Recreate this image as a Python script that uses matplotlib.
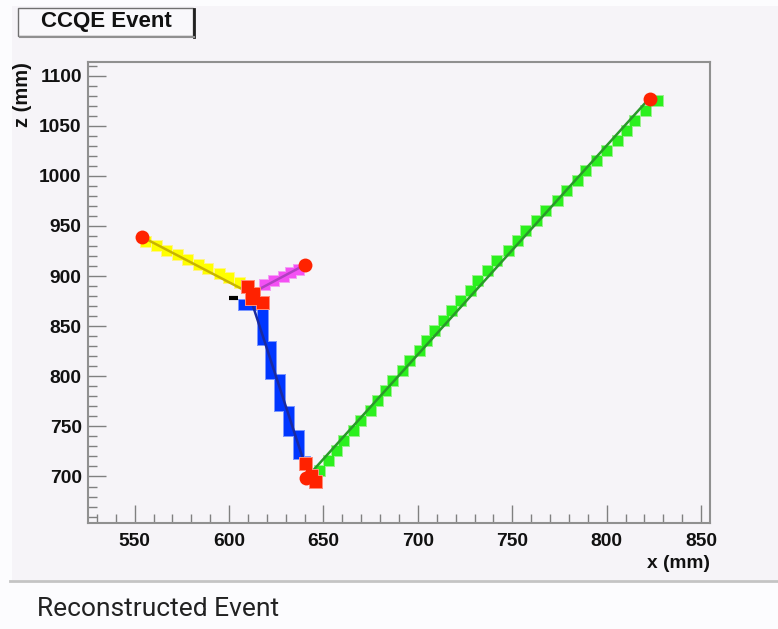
"""
CCQE event display: reconstructed tracks in the x-z view
"""

import matplotlib
matplotlib.use("Agg")
import matplotlib.pyplot as plt
from matplotlib.patches import Rectangle
from matplotlib.lines import Line2D
from matplotlib.ticker import MultipleLocator

# hits (mm)
green_x = [648, 653, 657, 661, 666, 670, 675, 679, 683, 687, 692, 696, 701, 705,
           709, 714, 718, 723, 728, 732, 737, 742, 748, 753, 757, 763, 768, 774,
           779, 785, 789, 795, 800, 806, 811, 815, 821, 827]
green_z = [705, 715, 725, 735, 745, 755, 765, 775, 785, 795, 805, 815, 825, 835,
           845, 855, 865, 875, 885, 895, 905, 915, 925, 935, 945, 955, 965, 975,
           985, 995, 1005, 1015, 1025, 1035, 1045, 1055, 1065, 1075]

yellow_x = [556, 562, 567, 573, 578, 584, 589, 595, 600, 606]
yellow_z = [934, 930, 925, 921, 916, 911, 907, 902, 898, 893]

magenta_x = [619, 624, 629, 633, 637]
magenta_z = [891, 895, 899, 903, 906]

blue_x = [608, 612, 618, 618, 618, 618, 622, 622, 622, 622, 627, 627, 627, 627,
          632, 632, 632, 637, 637, 637, 640]
blue_z = [871, 871, 861, 851, 841, 836, 829, 819, 809, 802, 796, 786, 776, 770,
          764, 754, 745, 740, 730, 722, 714]

red_sq_x = [610, 613, 612, 618, 641, 644, 646]
red_sq_z = [889, 882, 877, 873, 712, 700, 695]

# track end points (start, end)
green_line = ([644, 821], [705, 1074])
yellow_line = ([555, 610], [938, 884])
magenta_line = ([615, 640], [886, 911])
blue_line = ([612, 641], [874, 707])
black_hit = ([600, 605], [878, 878])

dot_x = [554, 640, 823, 641]
dot_z = [939, 911, 1077, 699]

W, H = 778, 629
BG = "#f6f4f8"


def fx(px):
    return px / W


def fy(py):
    return 1 - py / H


def hits(ax, x, z, ms, color, halo, z0=2):
    # soft rim first, solid cells on top so neighbouring cells merge
    ax.plot(x, z, ls="none", marker="s", ms=ms + 1.2, color=halo, mew=0, zorder=z0 - 0.1)
    ax.plot(x, z, ls="none", marker="s", ms=ms, color=color, mew=0, zorder=z0)


plt.rcParams['font.family'] = ['Liberation Sans', 'DejaVu Sans']

fig = plt.figure(figsize=(W / 100, H / 100), dpi=100)
fig.patch.set_facecolor("#fcfcfe")

# canvas panel + status bar separator
fig.patches.append(Rectangle((fx(12), fy(580)), fx(W - 12), 574 / H,
                             transform=fig.transFigure, facecolor=BG,
                             edgecolor="none", zorder=-2))
fig.lines.append(Line2D([fx(10), 1], [fy(581), fy(581)], transform=fig.transFigure,
                        color="#c4c4c4", lw=2, zorder=-1))

ax = fig.add_axes([fx(88), fy(523), fx(710 - 88), (523 - 62) / H])
ax.set_zorder(1)
ax.set_facecolor(BG)

hits(ax, green_x, green_z, 7.8, "#2bf01e", "#9af08e")
hits(ax, yellow_x, yellow_z, 7.0, "#ffff00", "#fff48a")
hits(ax, magenta_x, magenta_z, 7.0, "#f450f4", "#f4a0f4")
hits(ax, blue_x, blue_z, 7.8, "#0036ff", "#7a96ff")

ax.plot(*green_line, color="#2a9a2a", lw=1.8, zorder=3)
ax.plot(*yellow_line, color="#c8b400", lw=1.8, zorder=3)
ax.plot(*magenta_line, color="#b040c0", lw=1.8, zorder=3)
ax.plot(*blue_line, color="#1a2aa0", lw=1.8, zorder=3)
ax.plot(*black_hit, color="black", lw=3, solid_capstyle="butt", zorder=3)

hits(ax, red_sq_x, red_sq_z, 8.6, "#ff2200", "#ff8a78", z0=4)
ax.plot(dot_x, dot_z, ls="none", marker="o", ms=10, color="#ff2200", mew=0, zorder=5)

ax.set_xlim(525.3, 854.7)
ax.set_ylim(653.6, 1113.6)
ax.xaxis.set_major_locator(MultipleLocator(50))
ax.xaxis.set_minor_locator(MultipleLocator(10))
ax.yaxis.set_major_locator(MultipleLocator(50))
ax.yaxis.set_minor_locator(MultipleLocator(10))

for s in ax.spines.values():
    s.set_color("#909090")
    s.set_linewidth(1.5)

ax.tick_params(which="both", direction="in", top=False, right=False,
               color="#808080", width=1)
ax.tick_params(which="major", length=13)
ax.tick_params(which="minor", length=6.5)
ax.tick_params(axis="x", pad=7.5)
ax.tick_params(axis="y", pad=4.5)
for lab in ax.get_xticklabels() + ax.get_yticklabels():
    lab.set_fontsize(13.8)
    lab.set_fontweight("bold")
    lab.set_color("#111111")

fig.text(fx(710), fy(563), "x (mm)", ha="right", va="center",
         fontsize=13.8, fontweight="bold", color="#111111")
fig.text(fx(23), fy(62), "z (mm)", ha="center", va="top", rotation=90,
         fontsize=14.5, fontweight="bold", color="#111111")

# title pave with shadow
fig.patches.append(Rectangle((fx(18), fy(36)), fx(175), 28 / H,
                             transform=fig.transFigure, facecolor="#f9f8fb",
                             edgecolor="#707070", lw=1, zorder=2))
fig.lines.append(Line2D([fx(193.5), fx(193.5)], [fy(9), fy(37)],
                        transform=fig.transFigure, color="#202020", lw=2, zorder=3))
fig.lines.append(Line2D([fx(20), fx(194)], [fy(36.5), fy(36.5)],
                        transform=fig.transFigure, color="#909090", lw=1.5, zorder=3))
fig.text(fx(106), fy(22), "CCQE Event", ha="center", va="center",
         fontsize=16, fontweight="bold", color="#111111")

fig.text(fx(37), fy(609), "Reconstructed Event", ha="left", va="center",
         fontsize=19, family=["Roboto", "DejaVu Sans"], fontweight="normal",
         color="#222222")

fig.savefig("out.png", dpi=100, facecolor=fig.get_facecolor())
